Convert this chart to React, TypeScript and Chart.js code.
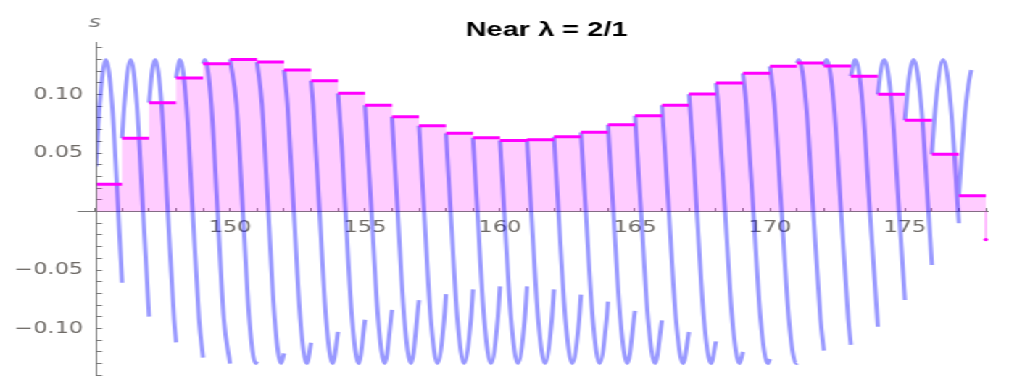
import React, { useEffect, useRef } from "react";
import { Chart, registerables } from "chart.js";

Chart.register(...registerables);

// ---------------- data ----------------
const TITLE = "Near λ = 2/1";
const Y_AXIS_LABEL = "s";

// left edge of each unit step and its height
const stepStarts = [
  145, 146, 147, 148, 149, 150, 151, 152, 153, 154, 155, 156, 157, 158, 159, 160, 161,
  162, 163, 164, 165, 166, 167, 168, 169, 170, 171, 172, 173, 174, 175, 176, 177,
];
const stepValues = [
  0.0232, 0.0626, 0.093, 0.1141, 0.1263, 0.13, 0.1278, 0.121, 0.1118, 0.101, 0.0908,
  0.081, 0.0733, 0.0668, 0.0631, 0.0608, 0.0614, 0.0639, 0.0677, 0.0742, 0.0819, 0.0908,
  0.1004, 0.1098, 0.1181, 0.1241, 0.1269, 0.1244, 0.1156, 0.1002, 0.078, 0.0489, 0.0135,
];
const stepWidth = 1;
const endStepX = 178;
const endStepValue = -0.024;

// blue curve, one piece per unit interval (it jumps at every integer)
const curveSegments: number[][][] = [
  [[145.03, 0.0386], [145.171, 0.0919], [145.4, 0.13], [145.629, 0.0919], [145.858, 0], [146, -0.0609]],
  [[146, 0.0626], [146.084, 0.0919], [146.315, 0.13], [146.546, 0.0919], [146.777, 0], [147, -0.0898]],
  [[147, 0.093], [147.114, 0.1205], [147.228, 0.13], [147.46, 0.0919], [147.693, 0], [147.925, -0.0919], [148, -0.1118]],
  [[148, 0.1141], [148.149, 0.13], [148.382, 0.0919], [148.616, 0], [148.85, -0.0919], [149, -0.1249]],
  [[149, 0.1263], [149.074, 0.13], [149.305, 0.0919], [149.537, 0], [149.769, -0.0919], [150, -0.13]],
  [[150, 0.13], [150.237, 0.0919], [150.475, 0], [150.712, -0.0919], [150.949, -0.13], [151, -0.1282]],
  [[151, 0.1278], [151.182, 0.0919], [151.418, 0], [151.653, -0.0919], [151.889, -0.13], [152, -0.1213]],
  [[152, 0.121], [152.126, 0.0919], [152.364, 0], [152.602, -0.0919], [152.84, -0.13], [153, -0.1122]],
  [[153, 0.1118], [153.075, 0.0919], [153.316, 0], [153.557, -0.0919], [153.798, -0.13], [154, -0.1029]],
  [[154, 0.101], [154.138, 0.056], [154.276, 0], [154.519, -0.0919], [154.762, -0.13], [155, -0.0925]],
  [[155, 0.0908], [155.24, 0], [155.485, -0.0919], [155.729, -0.13], [156, -0.084]],
  [[156, 0.081], [156.21, 0], [156.456, -0.0919], [156.703, -0.13], [157, -0.0757]],
  [[157, 0.0733], [157.19, 0], [157.437, -0.0919], [157.685, -0.13], [157.933, -0.0919], [158, -0.0706]],
  [[158, 0.0668], [158.172, 0], [158.422, -0.0919], [158.672, -0.13], [158.923, -0.0919], [159, -0.0665]],
  [[159, 0.0631], [159.163, 0], [159.414, -0.0919], [159.666, -0.13], [159.917, -0.0919], [160, -0.064]],
  [[160, 0.0608], [160.157, 0], [160.41, -0.0919], [160.664, -0.13], [160.917, -0.0919], [161, -0.064]],
  [[161, 0.0614], [161.16, 0], [161.414, -0.0919], [161.668, -0.13], [161.922, -0.0919], [162, -0.0665]],
  [[162, 0.0639], [162.167, 0], [162.423, -0.0919], [162.679, -0.13], [162.934, -0.0919], [163, -0.071]],
  [[163, 0.0677], [163.179, 0], [163.436, -0.0919], [163.693, -0.13], [163.95, -0.0919], [164, -0.077]],
  [[164, 0.0742], [164.2, 0], [164.459, -0.0919], [164.717, -0.13], [165, -0.085]],
  [[165, 0.0819], [165.225, 0], [165.485, -0.0919], [165.745, -0.13], [166, -0.093]],
  [[166, 0.0908], [166.257, 0], [166.519, -0.0919], [166.78, -0.13], [167, -0.103]],
  [[167, 0.1004], [167.147, 0.0554], [167.294, 0], [167.555, -0.0919], [167.817, -0.13], [168, -0.111]],
  [[168, 0.1098], [168.076, 0.0919], [168.34, 0], [168.605, -0.0919], [168.869, -0.13], [169, -0.12]],
  [[169, 0.1181], [169.12, 0.0919], [169.387, 0], [169.653, -0.0919], [169.919, -0.13], [170, -0.126]],
  [[170, 0.1241], [170.166, 0.0919], [170.434, 0], [170.702, -0.0919], [170.97, -0.13], [171, -0.1295]],
  [[171, 0.1269], [171.075, 0.13], [171.34, 0.0919], [171.607, 0], [171.873, -0.0919], [172, -0.119]],
  [[172, 0.1244], [172.1, 0.13], [172.368, 0.0919], [172.636, 0], [172.903, -0.0919], [173, -0.114]],
  [[173, 0.1156], [173.164, 0.13], [173.434, 0.0919], [173.704, 0], [174, -0.0985]],
  [[174, 0.1002], [174.12, 0.1223], [174.24, 0.13], [174.512, 0.0919], [174.785, 0], [175, -0.0756]],
  [[175, 0.078], [175.163, 0.1162], [175.325, 0.13], [175.6, 0.0919], [175.874, 0], [176, -0.0457]],
  [[176, 0.0489], [176.141, 0.0919], [176.418, 0.13], [176.695, 0.0919], [177, -0.01]],
  [[177, 0.0135], [177.2, 0.077], [177.35, 0.108], [177.46, 0.121]],
];

// axes
const xMin = 145.07;
const xMax = 178.1;
const xAxisLeftEnd = 144.35;
const yMin = -0.1406;
const yMax = 0.1449;
const xTickValues = [
  145, 146, 147, 148, 149, 150, 151, 152, 153, 154, 155, 156, 157, 158, 159, 160, 161,
  162, 163, 164, 165, 166, 167, 168, 169, 170, 171, 172, 173, 174, 175, 176, 177, 178,
];
const xLabelValues = [150, 155, 160, 165, 170, 175];
const yTickValues = [
  -0.14, -0.13, -0.12, -0.11, -0.1, -0.09, -0.08, -0.07, -0.06, -0.05, -0.04, -0.03,
  -0.02, -0.01, 0, 0.01, 0.02, 0.03, 0.04, 0.05, 0.06, 0.07, 0.08, 0.09, 0.1, 0.11,
  0.12, 0.13, 0.14,
];
const yLabelValues = [-0.1, -0.05, 0.05, 0.1];

// ---------------- layout ----------------
const OUT_W = 1009;
const CANVAS_W = 696;
const CANVAS_H = 376;
const STRETCH = OUT_W / CANVAS_W;
const AXIS_COLOR = "#787878";
const TICK_LABEL_COLOR = "#6e6a66";
const TICK_FONT = { family: "'DejaVu Sans', sans-serif", size: 15.5 };

const textPlugin = {
  id: "textPlugin",
  afterDraw(chart: any) {
    const ctx = chart.ctx;
    ctx.save();
    ctx.fillStyle = "#000";
    ctx.font = "bold 20px 'Liberation Sans', Arial, sans-serif";
    ctx.textAlign = "center";
    ctx.textBaseline = "alphabetic";
    ctx.fillText(TITLE, 377, 36);
    ctx.fillStyle = "#7a7a7a";
    ctx.font = "italic 16px 'DejaVu Sans', sans-serif";
    ctx.fillText(Y_AXIS_LABEL, 65.5, 27);
    ctx.restore();
  },
};

function fmtY(v: number) {
  return v.toFixed(2).replace("-", "\u2212");
}

export default function App() {
  const ref = useRef<HTMLCanvasElement>(null);

  useEffect(() => {
    const canvas = ref.current;
    if (!canvas) return;
    const last = stepStarts.length - 1;
    const fillData = [
      ...stepStarts.map((x, i) => ({ x, y: stepValues[i] })),
      { x: stepStarts[last] + stepWidth, y: stepValues[last] },
    ];
    const stepLineData = stepStarts.flatMap((x, i) => [
      { x, y: stepValues[i] },
      { x: x + stepWidth, y: stepValues[i] },
      { x: x + stepWidth, y: null },
    ]);
    const curveData = curveSegments.flatMap((seg) => [
      ...seg.map(([x, y]) => ({ x, y })),
      { x: seg[seg.length - 1][0], y: null },
    ]);

    const chart = new Chart(canvas, {
      type: "line",
      data: {
        datasets: [
          {
            label: "fill",
            data: fillData as any,
            stepped: true,
            fill: "origin",
            backgroundColor: "rgba(255,0,255,0.2)",
            borderColor: "rgba(0,0,0,0)",
            borderWidth: 0,
            pointRadius: 0,
            order: 4,
            clip: 0,
          } as any,
          {
            label: "curve",
            data: curveData as any,
            borderColor: "rgba(0,0,255,0.4)",
            borderWidth: 3,
            cubicInterpolationMode: "monotone",
            pointRadius: 0,
            fill: false,
            spanGaps: false,
            order: 3,
            clip: 0,
          } as any,
          {
            label: "steps",
            data: stepLineData as any,
            borderColor: "#ff00ff",
            borderWidth: 3,
            borderCapStyle: "butt",
            pointRadius: 0,
            fill: false,
            spanGaps: false,
            order: 2,
            clip: 0,
          } as any,
          {
            label: "end",
            data: [
              { x: endStepX, y: 0 },
              { x: endStepX, y: endStepValue },
            ] as any,
            borderColor: "rgba(255,0,255,0.35)",
            borderWidth: 1.5,
            pointRadius: [0, 1.6],
            pointBackgroundColor: "#ff00ff",
            pointBorderWidth: 0,
            fill: false,
            order: 1,
            clip: false,
          } as any,
          {
            label: "axisExt",
            data: [
              { x: xAxisLeftEnd, y: 0 },
              { x: xMin, y: 0 },
            ] as any,
            borderColor: AXIS_COLOR,
            borderWidth: 1,
            pointRadius: 0,
            fill: false,
            order: 0,
            clip: false,
          } as any,
        ],
      },
      options: {
        animation: false,
        responsive: false,
        devicePixelRatio: 1,
        events: [],
        layout: { padding: { top: 42, right: CANVAS_W - 681.9, bottom: 0, left: 0 }, autoPadding: false },
        plugins: { legend: { display: false }, tooltip: { enabled: false }, title: { display: false } },
        scales: {
          x: {
            type: "linear",
            min: xMin,
            max: xMax,
            position: { y: 0 } as any,
            afterBuildTicks: (s: any) => {
              s.ticks = xTickValues.map((value) => ({ value }));
            },
            afterFit: (s: any) => {
              s.paddingLeft = 0;
              s.paddingRight = 0;
            },
            ticks: {
              autoSkip: false,
              maxRotation: 0,
              minRotation: 0,
              padding: 11,
              color: TICK_LABEL_COLOR,
              font: TICK_FONT,
              callback: (v: any) => (xLabelValues.includes(Number(v)) ? String(v) : ""),
            },
            grid: { drawOnChartArea: false, drawTicks: true, tickLength: -4, color: AXIS_COLOR, lineWidth: 1 },
            border: { display: true, color: AXIS_COLOR, width: 1 },
          },
          y: {
            type: "linear",
            min: yMin,
            max: yMax,
            position: "left",
            afterBuildTicks: (s: any) => {
              s.ticks = yTickValues.map((value) => ({ value }));
            },
            afterFit: (s: any) => {
              s.width = 66.9;
              s.paddingTop = 0;
              s.paddingBottom = 0;
            },
            ticks: {
              autoSkip: false,
              padding: 13,
              color: TICK_LABEL_COLOR,
              font: TICK_FONT,
              callback: (v: any) =>
                yLabelValues.some((l) => Math.abs(l - Number(v)) < 1e-9) ? fmtY(Number(v)) : "",
            },
            grid: { drawOnChartArea: false, drawTicks: true, tickLength: -3.5, color: AXIS_COLOR, lineWidth: 1 },
            border: { display: true, color: AXIS_COLOR, width: 1 },
          },
        },
      } as any,
      plugins: [textPlugin],
    });
    return () => chart.destroy();
  }, []);

  return (
    <div
      style={{
        position: "fixed",
        left: 0,
        top: 0,
        width: CANVAS_W,
        height: CANVAS_H,
        transform: `scaleX(${STRETCH})`,
        transformOrigin: "0 0",
        background: "#fff",
      }}
    >
      <canvas ref={ref} width={CANVAS_W} height={CANVAS_H} />
    </div>
  );
}
